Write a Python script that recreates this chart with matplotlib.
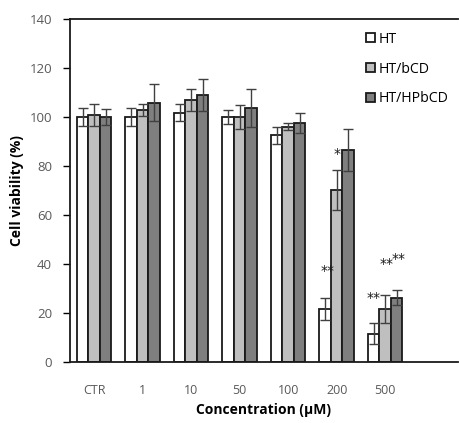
import numpy as np
from matplotlib import pyplot as plt

plt.rcParams['font.family'] = ['Open Sans', 'DejaVu Sans']

# data
concs = ['CTR', '1', '10', '50', '100', '200', '500']
ht = [100.0, 100.0, 101.8, 100.0, 92.6, 21.6, 11.6]
ht_err = [3.7, 3.7, 3.5, 2.9, 3.5, 4.4, 4.4]
bcd = [100.8, 102.9, 106.9, 100.0, 96.0, 70.2, 21.6]
bcd_err = [4.3, 2.4, 4.4, 4.8, 1.5, 8.0, 5.7]
hpbcd = [100.0, 105.9, 109.0, 103.8, 97.5, 86.5, 26.3]
hpbcd_err = [3.3, 7.6, 6.5, 7.8, 4.0, 8.4, 2.9]

fig = plt.figure(figsize=(4.59, 4.23), dpi=100)
ax = fig.add_axes([0.1525, 0.1442, 0.845, 0.811])

x = np.arange(len(concs))
w = 0.237
err_kw = dict(ecolor='#404040', elinewidth=1.0, capsize=3.5, capthick=1.0)
ax.bar(x - w, ht, w, yerr=ht_err, color='white', edgecolor='#1a1a1a',
       linewidth=1.3, label='HT', error_kw=err_kw, zorder=2)
ax.bar(x, bcd, w, yerr=bcd_err, color='#bfbfbf', edgecolor='#1a1a1a',
       linewidth=1.3, label='HT/bCD', error_kw=err_kw, zorder=2)
ax.bar(x + w, hpbcd, w, yerr=hpbcd_err, color='#7f7f7f', edgecolor='#1a1a1a',
       linewidth=1.3, label='HT/HPbCD', error_kw=err_kw, zorder=2)

# significance marks
star_kw = dict(ha='center', va='center', fontsize=10, color='#1a1a1a',
               family='DejaVu Sans')
ax.text(5 - w + 0.05, 37.0, '**', **star_kw)
ax.text(5, 85.0, '*', **star_kw)
ax.text(6 - w, 26.0, '**', **star_kw)
ax.text(6 + 0.03, 40.0, '**', **star_kw)
ax.text(6 + w + 0.05, 42.0, '**', **star_kw)

ax.set_xlim(-0.5, 7.5)
ax.set_ylim(0, 140)
ax.set_yticks(range(0, 141, 20))
ax.set_xticks(x)
ax.set_xticklabels(concs)
ax.tick_params(axis='x', length=0, pad=16, labelsize=9, labelcolor='#595959')
ax.tick_params(axis='y', length=5, width=1, direction='out', labelsize=9.5,
               labelcolor='#595959', pad=8)
ax.spines['right'].set_visible(False)
for s in ['left', 'top', 'bottom']:
    ax.spines[s].set_linewidth(1.3)
    ax.spines[s].set_color('#1a1a1a')

ax.set_ylabel('Cell viability (%)', fontsize=10, fontweight='bold', labelpad=4)
ax.set_xlabel('Concentration (\u03bcM)', fontsize=10, fontweight='bold',
              labelpad=4)

ax.legend(loc='upper right', frameon=False, fontsize=10.2, labelspacing=1.05,
          handlelength=0.65, handleheight=0.65, handletextpad=0.3,
          bbox_to_anchor=(1.01, 1.0))

plt.savefig('out.png', dpi=100)
